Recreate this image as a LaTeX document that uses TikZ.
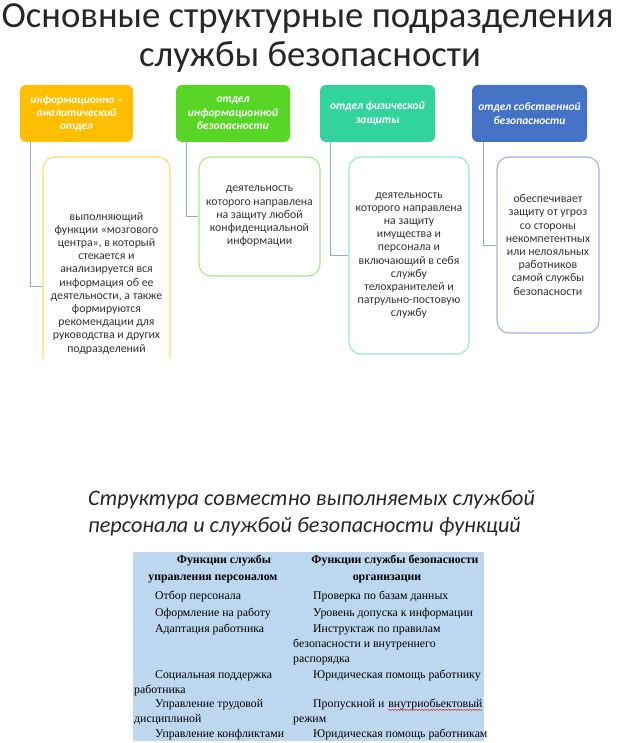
\documentclass[tikz,border=0pt]{standalone}
\usepackage{fontspec}
\setmainfont{Carlito}
\newfontfamily\tnr{Liberation Serif}
\usetikzlibrary{calc,decorations.pathmorphing}
\definecolor{cOrange}{HTML}{FFBE00}
\definecolor{cGreen}{HTML}{58D626}
\definecolor{cTeal}{HTML}{33D39E}
\definecolor{cBlue}{HTML}{4472C4}
\definecolor{bOrange}{HTML}{FFD966}
\definecolor{bGreen}{HTML}{A9E88A}
\definecolor{bTeal}{HTML}{92E8CC}
\definecolor{bBlue}{HTML}{9DB3E0}
\definecolor{connc}{HTML}{8EA9DB}
\definecolor{textgray}{HTML}{333333}
\definecolor{titlec}{HTML}{262626}
\definecolor{tblbg}{HTML}{BDD7EE}
\begin{document}
\begin{tikzpicture}[x=1pt,y=-1pt,
  hdr/.style={rounded corners=6pt, inner sep=0pt, align=center, text=white,
    font=\fontsize{11.5}{13.3}\selectfont\bfseries\itshape, minimum height=57pt},
  det/.style={rounded corners=12pt, line width=1.1pt, fill=white, align=center,
    text=textgray, font=\fontsize{11.8}{13.2}\selectfont, inner sep=0pt},
  dtext/.style={align=center, text=textgray, font=\fontsize{11.8}{13.2}\selectfont, inner sep=0pt},
  conn/.style={draw=connc, line width=0.9pt},
  tb/.style={inner sep=0pt, font=\tnr\fontsize{11.8}{12}\selectfont},
  tbh/.style={inner sep=0pt, font=\tnr\fontsize{11.8}{12}\selectfont\bfseries},
  ttl/.style={anchor=base, text=titlec, font=\fontsize{36.7}{40}\selectfont, inner sep=0pt},
  sub/.style={anchor=base west, text=titlec, font=\fontsize{22.2}{27}\selectfont\itshape, inner sep=0pt}
]
\useasboundingbox (0,0) rectangle (624,743);

% Title
\node[ttl] (t1) at (307.5,28) {Основные структурные подразделения};
\node[ttl] (t2) at (310,67) {службы безопасности};

% Headers
\node[hdr, fill=cOrange, minimum width=113pt] (h1) at (76.5,113.5) {информационно –\\аналитический\\отдел};
\node[hdr, fill=cGreen, minimum width=114pt] (h2) at (233,113.5) {отдел\\информационной\\безопасности};
\node[hdr, fill=cTeal, minimum width=115pt] (h3) at (377.5,113.5) {отдел физической\\защиты};
\node[hdr, fill=cBlue, minimum width=115pt] (h4) at (529.5,113.5) {отдел собственной\\безопасности};

% Detail boxes
\begin{scope}
\clip (0,150) rectangle (624,358);
\node[det, draw=bOrange, minimum width=127pt, minimum height=258pt] (d1) at (106.5,286) {};
\end{scope}
\node[dtext] (d1t) at (106.5,283) {выполняющий\\функции «мозгового\\центра», в который\\стекается и\\анализируется вся\\информация об ее\\деятельности, а также\\формируются\\рекомендации для\\руководства и других\\подразделений};
\node[det, draw=bGreen, minimum width=121pt, minimum height=119pt] (d2) at (259.5,216.5) {деятельность\\которого направлена\\на защиту любой\\конфиденциальной\\информации};
\node[det, draw=bTeal, minimum width=120pt, minimum height=197pt] (d3) at (409,255.5) {деятельность\\которого направлена\\на защиту\\имущества и\\персонала и\\включающий в себя\\службу\\телохранителей и\\патрульно-постовую\\службу};
\node[det, draw=bBlue, minimum width=102pt, minimum height=176pt] (d4) at (548,245) {обеспечивает\\защиту от угроз\\со стороны\\некомпетентных\\или нелояльных\\работников\\самой службы\\безопасности};

% Connectors
\draw[conn] ($(h1.south west)+(11,0)$) |- (d1.west);
\draw[conn] ($(h2.south west)+(11,0)$) |- (d2.west);
\draw[conn] ($(h3.south west)+(11,0)$) |- (d3.west);
\draw[conn] ($(h4.south west)+(12,0)$) |- (d4.west);

% Subtitle
\node[sub] (s1) at (88,505) {Структура совместно выполняемых службой};
\node[sub] (s2) at (88,532) {персонала и службой безопасности функций};

% Table
\fill[tblbg] (133,552) rectangle (484,741);
\node[tbh, anchor=mid] (a0) at (224,561) {Функции службы};
\node[tbh, anchor=mid] (a1) at (213,578) {управления персоналом};
\node[tbh, anchor=mid] (b0) at (395,561) {Функции службы безопасности};
\node[tbh, anchor=mid] (b1) at (387,578) {организации};

\node[tb, anchor=mid west] (a2) at (155,597) {Отбор персонала};
\node[tb, anchor=mid west] (a3) at (155,614) {Оформление на работу};
\node[tb, anchor=mid west] (a4) at (155,630) {Адаптация работника};
\node[tb, anchor=mid west] (a5) at (155,676) {Социальная поддержка};
\node[tb, anchor=mid west] (a6) at (134,691) {работника};
\node[tb, anchor=mid west] (a7) at (155,705) {Управление трудовой};
\node[tb, anchor=mid west] (a8) at (134,720) {дисциплиной};
\node[tb, anchor=mid west] (a9) at (155,735) {Управление конфликтами};

\node[tb, anchor=mid west] (b2) at (313,597) {Проверка по базам данных};
\node[tb, anchor=mid west] (b3) at (313,614) {Уровень допуска к информации};
\node[tb, anchor=mid west] (b4) at (313,630) {Инструктаж по правилам};
\node[tb, anchor=mid west] (b5) at (293,645) {безопасности и внутреннего};
\node[tb, anchor=mid west] (b6) at (293,660) {распорядка};
\node[tb, anchor=mid west] (b7) at (313,676) {Юридическая помощь работнику};
\node[tb, anchor=mid west] (b8) at (313,705) {Пропускной и};
\node[tb, anchor=base west, xshift=3.5pt] (b8w) at (b8.base east) {внутриобьектовый};
\node[tb, anchor=mid west] (b9) at (293,720) {режим};
\node[tb, anchor=mid west] (b10) at (313,735) {Юридическая помощь работникам};
\draw[red!85!black, line width=0.4pt, decorate, decoration={snake, amplitude=0.6pt, segment length=3pt}]
  ($(b8w.base west)+(0,2.5)$) -- ($(b8w.base east)+(0,2.5)$);
\end{tikzpicture}
\end{document}
